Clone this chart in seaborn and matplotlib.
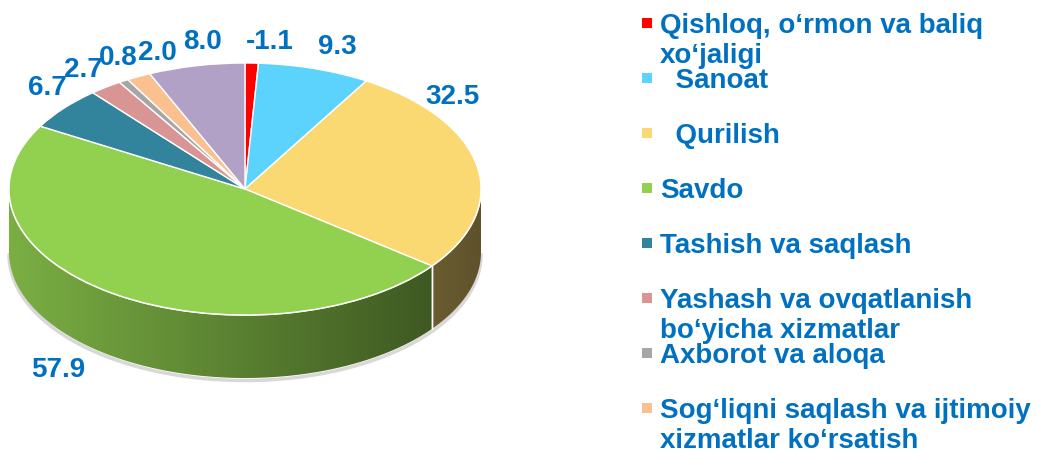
import numpy as np
import matplotlib
matplotlib.use("Agg")
import matplotlib.pyplot as plt
import matplotlib.colors as mcolors
from matplotlib.patches import Polygon
import seaborn as sns

# ── Data ──────────────────────────────────────────────────────────────────────
sectors = [
    "Qishloq, o‘rmon va baliq\nxo‘jaligi",
    "  Sanoat",
    "  Qurilish",
    "Savdo",
    "Tashish va saqlash",
    "Yashash va ovqatlanish\nbo‘yicha xizmatlar",
    "Axborot va aloqa",
    "Sog‘liqni saqlash va ijtimoiy\nxizmatlar ko‘rsatish",
    "Boshqa",
]
growth = [-1.1, 9.3, 32.5, 57.9, 6.7, 2.7, 0.8, 2.0, 8.0]
slice_colors = ["#FF0000", "#5BD3FC", "#FAD872", "#92D050", "#31849B",
                "#D99594", "#A6A6A6", "#FAC090", "#B2A1C7"]

# label anchors (data coords of the squashed pie)
label_pos = [(0.106, 1.167), (0.39, 1.127), (0.877, 0.73), (-0.792, -1.437),
             (-0.839, 0.80), (-0.686, 0.944), (-0.538, 1.04), (-0.373, 1.079),
             (-0.182, 1.167)]

BLUE = "#0070C0"
sns.set_theme(style="white")
plt.rcParams['font.family'] = ['Liberation Sans', 'DejaVu Sans']

W, H = 1038, 450
fig = plt.figure(figsize=(W / 100, H / 100), dpi=100)

# pie axes: 1 x-unit = 236 px, 1 y-unit = 126 px (flattened 3D look)
cx, cy, rx, ry = 245, 189, 236, 126
ax_w = 560
ax = fig.add_axes([0, 0, ax_w / W, 1])
ax.set_axis_off()

sizes = np.abs(growth)
wedges, _ = ax.pie(sizes, colors=slice_colors, startangle=90, counterclock=False,
                   wedgeprops=dict(edgecolor="white", linewidth=1, zorder=3))
ax.set_aspect("auto")

# ── side wall (front half only), shaded light left -> dark right ─────────────
depth = 0.5
gx = np.linspace(-1, 1, 256)
shade = 0.61 - 0.23 * gx
for w, col in zip(wedges, slice_colors):
    t1, t2 = w.theta1 % 360, w.theta2 % 360
    if t2 <= t1:
        t2 += 360
    lo, hi = max(t1, 180), min(t2, 360)
    if hi <= lo:
        continue
    angs = np.radians(np.linspace(lo, hi, 120))
    xs, ys = np.cos(angs), np.sin(angs)
    poly = Polygon(np.column_stack([np.concatenate([xs, xs[::-1]]),
                                    np.concatenate([ys, ys[::-1] - depth])]),
                   closed=True, fc="none", ec="none", zorder=1)
    ax.add_patch(poly)
    base = np.array(mcolors.to_rgb(col))
    img = np.clip(shade[None, :, None] * base[None, None, :], 0, 1)
    im = ax.imshow(img, extent=(-1, 1, -1 - depth, 0.05), aspect="auto",
                   zorder=1, interpolation="bilinear")
    im.set_clip_path(poly)
    for e in np.radians([lo, hi]):
        if np.sin(e) < -1e-6:
            ax.plot([np.cos(e)] * 2, [np.sin(e), np.sin(e) - depth],
                    color="white", lw=1, zorder=2)

ax.set_xlim(-cx / rx, (ax_w - cx) / rx)
ax.set_ylim(-(H - cy) / ry, cy / ry)

# rim and soft bottom outline
tt = np.radians(np.linspace(180, 360, 200))
ax.plot(np.cos(tt), np.sin(tt), color="white", lw=1.2, zorder=2)
ax.plot(np.cos(tt), np.sin(tt) - depth - 0.02, color="#C8C8C8", lw=2.5,
        alpha=0.7, zorder=0.5)

# value labels
for v, (lx, ly) in zip(growth, label_pos):
    ax.text(lx, ly, f"{v:.1f}", color=BLUE, fontsize=20, fontweight="bold",
            ha="center", va="center", zorder=5)

# ── legend (manual, runs off the bottom like the original) ───────────────────
leg = fig.add_axes([0, 0, 1, 1], facecolor="none")
leg.set_axis_off()
leg.set_xlim(0, W)
leg.set_ylim(H, 0)
y0, dy, line_h = 23, 55, 30
for i, (name, col) in enumerate(zip(sectors, slice_colors)):
    y = y0 + i * dy
    if y > H:
        break
    leg.scatter(647, y, marker="s", s=50, color=col, edgecolors="none")
    for j, line in enumerate(name.split("\n")):
        leg.text(660, y + 10 + j * line_h, line, color=BLUE, fontsize=20,
                 fontweight="bold", ha="left", va="baseline")

plt.savefig("out.png", dpi=100)
plt.close()
